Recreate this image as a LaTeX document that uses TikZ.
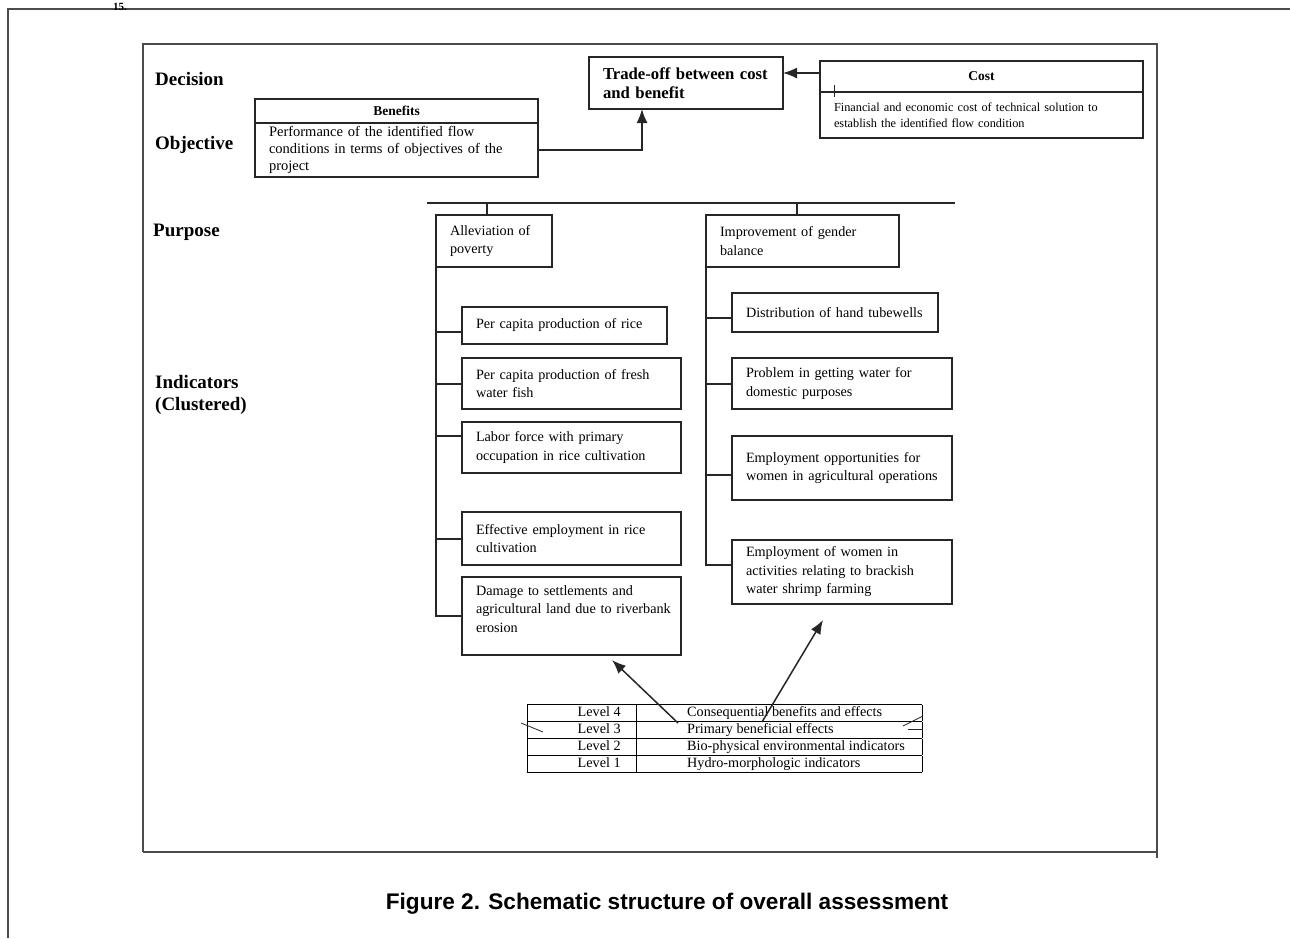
\documentclass[tikz,border=0pt]{standalone}
\usepackage{fontspec}
\setmainfont{Liberation Serif}
\newfontfamily\captionfamily{Liberation Sans}
\usetikzlibrary{arrows.meta, positioning}
\tikzset{%
  >={Latex[width=11pt,length=14pt]},
  % Specifications for style of nodes:
        base/.style = {rectangle, draw=black!85, line width=1.5pt,
                           anchor=north west, inner xsep=14pt, inner ysep=0pt,
                           outer sep=0pt, align=left,
                           font=\fontsize{14.2}{18.5}\selectfont},
        head/.style = {base, align=center,
                           font=\fontsize{13.5}{15}\selectfont\bfseries},
        decision/.style = {base, font=\fontsize{16.7}{19}\selectfont\bfseries},
        tier/.style = {anchor=west, inner sep=0pt, align=left,
                           font=\fontsize{19}{22}\selectfont\bfseries},
        pageframe/.style = {draw=black!70, line width=1.5pt},
        line/.style = {draw=black!85, line width=1.5pt}
}
\newcommand{\levelTable}{%
    \setlength{\arrayrulewidth}{1pt}%
    \begin{tabular}{|@{\hspace{50pt}}p{59pt}@{}|@{\hspace{50pt}}p{235pt}@{}|}
        \hline
        Level 4 & Consequential benefits and effects\\ \hline
        Level 3 & Primary beneficial effects\\ \hline
        Level 2 & Bio-physical environmental indicators\\ \hline
        Level 1 & Hydro-morphologic indicators\\ \hline
    \end{tabular}%
}
\begin{document}
\begin{tikzpicture}[x=1pt, y=-1pt]
  \useasboundingbox (0,0) rectangle (1290,938);
  % Frames of the page and of the figure
  \draw[pageframe] (8,938) -- (8,9) -- (1290,9);
  \draw[pageframe] (143,852) -- (143,44) -- (1157,44) -- (1157,858);
  \draw[pageframe] (143,852) -- (1157,852);
  \node (pageNo) [anchor=base west, inner sep=0pt,
      font=\fontsize{11}{11}\selectfont\bfseries] at (113,10.5) {15.};

  % Specification of nodes (position, etc.)
    \node (decisionLbl)  [tier] at (155,79) {Decision};
    \node (objectiveLbl) [tier] at (155,145) {Objective};
    \node (purposeLbl)   [tier] at (153,232) {Purpose};
    \node (indicatorLbl) [tier] at (155,395) {Indicators\\(Clustered)};

    \node (tradeoff)     [decision, text width=166pt, minimum height=52pt]
        at (589,57) {Trade-off between cost\\and benefit};
    \node (costHead)     [head, text width=295pt, minimum height=31pt]
        at (820,61) {Cost};
    \node (costBody)     [base, text width=295pt, minimum height=46pt,
        font=\fontsize{12.3}{16.5}\selectfont,
        below=0pt of costHead.south west, anchor=north west]
        {Financial and economic cost of technical solution to\\
         establish the identified flow condition};
    \node (benefitsHead) [head, text width=255pt, minimum height=24pt]
        at (255,99) {Benefits};
    \node (benefitsBody) [base, text width=255pt, minimum height=54pt,
        font=\fontsize{14.5}{17}\selectfont,
        below=0pt of benefitsHead.south west, anchor=north west]
        {Performance of the identified flow\\
         conditions in terms of objectives of the\\project};

    \node (poverty)      [base, text width=88pt, minimum height=52pt]
        at (436,215) {Alleviation of\\poverty};
    \node (gender)       [base, text width=165pt, minimum height=52pt]
        at (706,215) {Improvement of gender\\balance};

    \node (rice)         [base, text width=177pt, minimum height=37pt]
        at (462,307) {Per capita production of rice};
    \node (freshFish)    [base, text width=191pt, minimum height=51pt,
        below=14pt of rice.south west, anchor=north west]
        {Per capita production of fresh\\water fish};
    \node (labor)        [base, text width=191pt, minimum height=51pt,
        below=13pt of freshFish.south west, anchor=north west]
        {Labor force with primary\\occupation in rice cultivation};
    \node (employment)   [base, text width=191pt, minimum height=53pt,
        below=39pt of labor.south west, anchor=north west]
        {Effective employment in rice\\cultivation};
    \node (damage)       [base, text width=191pt, minimum height=78pt,
        below=12pt of employment.south west, anchor=north west]
        {Damage to settlements and\\
         \mbox{agricultural land due to riverbank}\\erosion\\[-4pt]\mbox{}};

    \node (tubewells)    [base, text width=178pt, minimum height=39pt]
        at (732,293) {Distribution of hand tubewells};
    \node (water)        [base, text width=192pt, minimum height=51pt,
        below=26pt of tubewells.south west, anchor=north west]
        {Problem in getting water for\\domestic purposes};
    \node (womenOps)     [base, text width=192pt, minimum height=64pt,
        below=27pt of water.south west, anchor=north west]
        {Employment opportunities for\\
         \mbox{women in agricultural operations}};
    \node (shrimp)       [base, text width=192pt, minimum height=64pt,
        below=40pt of womenOps.south west, anchor=north west]
        {Employment of women in\\activities relating to brackish\\water shrimp farming};

    \node (levels)       [anchor=north west, inner sep=0pt,
        font=\fontsize{14.2}{16}\selectfont] at (527,704) {\levelTable};

    \node (caption) [font=\captionfamily\fontsize{22.6}{26}\selectfont\bfseries]
        at (667,904) {Figure 2. Schematic structure of overall assessment};

  % Specification of lines between nodes specified above
    \draw[->, line] ([yshift=3.5pt]costHead.west) -- ([yshift=10pt]tradeoff.east);
    \draw[->, line] (benefitsBody.east) -| ([xshift=-44pt]tradeoff.south);

    \coordinate (barLeft)  at (427,203);
    \coordinate (barRight) at (955,203);
    \draw[line] (barLeft) -- (barRight);
    \draw[line] ([xshift=51pt]poverty.north west) |- (barLeft);
    \draw[line] ([xshift=91pt]gender.north west) |- (barLeft);

    \draw[line] (poverty.south west) |- ([yshift=-6.5pt]rice.west);
    \draw[line] (poverty.south west) |- ([yshift=-0.5pt]freshFish.west);
    \draw[line] (poverty.south west) |- ([yshift=11.5pt]labor.west);
    \draw[line] (poverty.south west) |- ([yshift=-0.5pt]employment.west);
    \draw[line] (poverty.south west) |- (damage.west);

    \draw[line] (gender.south west) |- ([yshift=-5.5pt]tubewells.west);
    \draw[line] (gender.south west) |- ([yshift=-0.5pt]water.west);
    \draw[line] (gender.south west) |- ([yshift=-7pt]womenOps.west);
    \draw[line] (gender.south west) |- ([yshift=7pt]shrimp.west);

    \coordinate (tailPoverty) at (678,723);
    \coordinate (tailGender)  at (762,722);
    \draw[->, line] (tailPoverty) -- ([xshift=40.5pt, yshift=-5pt]damage.south);
    \draw[->, line] (tailGender) -- ([xshift=-19pt, yshift=-16pt]shrimp.south);

  % stray strokes of the scan
    \draw[line, line width=0.8pt] (834,85) -- (834,97);
    \draw[line, line width=0.8pt] (521,723) -- (543,732);
    \draw[line, line width=0.8pt] (903,726) -- (923,716);
    \draw[line, line width=0.8pt] (908,729) -- (923,729);
\end{tikzpicture}
\end{document}
